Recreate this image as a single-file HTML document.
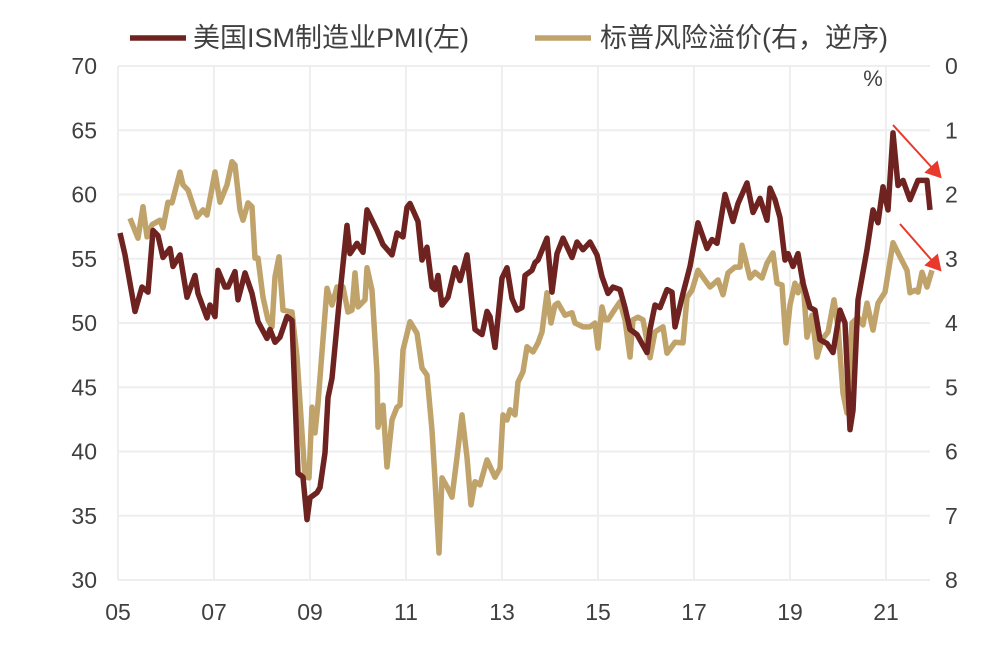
<!DOCTYPE html>
<html><head><meta charset="utf-8"><style>
body{margin:0;background:#fff;}
svg{display:block;font-family:"Liberation Sans","Noto Sans CJK SC",sans-serif;}
</style></head><body>
<svg id="chart" width="1000" height="661"></svg>
<script>
const xTickLabels=["05","07","09","11","13","15","17","19","21"];
const leftTicks=[30,35,40,45,50,55,60,65,70];
const rightTicks=[0,1,2,3,4,5,6,7,8];
// PMI: month index since 2005-01, value
const pmiMonths=[0.5,1.75,4.25,6,7.5,8.75,10,11.25,13,13.75,15.5,17.25,19.25,20,22.25,23,24.25,25,26.75,27.5,29.25,30,31.75,33.5,35,37.25,38,39.25,40.5,42.25,43.5,45,46.25,47.25,48,49.75,50.5,51.75,52.5,53.5,55.5,57.25,58,59.75,61.25,62.25,64.75,66.25,68.5,69.75,71.25,72.25,73,75,76,77.25,78.5,79.25,80,81,82.5,84.25,85.5,87.25,89.25,91,92.25,93,94.25,96,97.25,98.5,99.75,101,101.75,103.5,104.25,105,107.25,108.5,109.75,111.25,113.5,114.75,116.25,118,119.75,121,122.5,123.75,125.5,126.75,128,129.75,132.25,133,134.25,135.5,137.25,138.5,139.25,141.25,143,145,147.25,148.5,149.75,151.75,153.75,155,157.25,158.75,160.5,162.25,163,164.25,165.5,166.75,167.5,168.75,170,171.25,173,174.25,175.5,177.25,178.75,180.5,181.75,183,183.75,185,187.25,188.75,190,191.25,192.5,193.75,195,196.25,198,200,202.25,203];
const pmiValues=[57.0,55.3,50.9,52.8,52.4,57.2,56.8,55.1,55.8,54.4,55.3,52.0,53.7,52.3,50.4,51.4,50.5,54.1,52.8,52.8,54.0,51.8,53.9,52.3,50.1,48.8,49.5,48.5,48.9,50.5,50.2,38.3,38.0,34.7,36.4,36.8,37.2,39.9,44.2,45.7,52.3,57.6,55.4,56.2,55.5,58.8,57.2,56.1,55.3,57.0,56.7,59.0,59.3,57.9,54.9,55.9,52.8,52.6,53.7,51.4,52.0,54.3,53.3,55.3,49.5,49.1,50.9,50.5,48.1,53.5,54.3,51.9,51.0,51.2,53.7,54.1,54.7,54.9,56.6,52.4,55.4,56.6,55.1,56.3,55.7,56.3,55.3,53.6,52.3,52.8,52.6,51.2,49.5,49.1,47.7,49.5,51.4,51.2,52.6,52.4,49.7,52.3,54.4,57.8,55.8,56.5,56.2,60.0,57.9,59.3,60.9,58.6,59.7,58.0,60.5,59.6,58.2,54.9,55.4,54.4,55.4,53.1,51.2,51.0,48.7,48.4,47.7,51.0,50.0,41.7,43.2,51.8,55.7,58.8,57.8,60.6,58.8,64.8,60.7,61.1,59.6,61.1,61.1,58.8];
// Spread (right axis, inverted)
const spreadMonths=[3,5,6.25,7.25,8.5,10.5,11.25,12.5,13.5,15.5,16.25,17.5,19.75,21.25,22.25,24.25,25.5,27.25,28.5,29.25,30.5,31.25,32.5,33.5,34.25,35,36.25,37.5,38.5,39.25,40.25,41.25,43.5,44.75,46,46.75,47.75,48.5,49.25,50,52.25,53.5,54.75,56.25,57.5,58.5,59.25,60,61.75,62.25,63.5,64.75,65,66.25,67.25,68.5,69.75,70.5,71.25,73,74.75,76,77.25,78.5,79.25,80.25,81,82.25,83.5,84.75,86,87.25,88.25,89.25,90.5,92.25,94.25,95.5,96.25,97.25,98,99.25,100,101.25,102.25,103.75,105,106,107.25,108.25,109.25,110,111.75,113.5,114.25,116.25,118,119.25,120,121,121.75,122.5,123.75,125.5,126.75,128,128.75,130,131.25,133,134.25,136.25,137.25,139.25,141.25,142.25,143.5,145,148,150,151.25,152.5,154.25,155.5,156,158,159.25,161,162.25,163.75,164.75,166,167,168,169.25,170,171.25,172.25,173.5,174.75,176,177.5,179,180,181.25,182.25,183.5,185,186.25,187.25,188.75,190,191.75,193.75,195.5,197.25,198,199.25,200,201,202.25,203.5];
const spreadValues=[2.37,2.68,2.19,2.66,2.47,2.40,2.52,2.12,2.13,1.65,1.85,1.93,2.35,2.24,2.32,1.65,2.12,1.85,1.49,1.54,2.24,2.40,2.13,2.19,2.99,2.99,3.60,3.95,4.06,3.28,2.97,3.80,3.83,4.53,5.71,6.40,6.41,5.31,5.71,5.25,3.46,3.72,3.44,3.44,3.83,3.80,3.22,3.75,3.64,3.14,3.49,4.78,5.62,5.28,6.24,5.51,5.31,5.28,4.42,3.98,4.16,4.70,4.81,5.67,6.44,7.58,6.41,6.55,6.71,6.09,5.43,6.09,6.83,6.47,6.52,6.13,6.40,6.26,5.43,5.51,5.35,5.43,4.92,4.76,4.37,4.45,4.31,4.14,3.53,4.00,3.72,3.69,3.88,3.84,4.00,4.06,4.06,4.00,4.39,3.75,3.95,3.95,3.83,3.67,3.95,4.53,3.95,3.91,3.95,4.54,4.14,4.06,4.47,4.30,4.31,3.60,3.49,3.18,3.44,3.33,3.56,3.22,3.13,3.13,2.79,3.30,3.21,3.30,3.07,2.91,3.38,3.41,4.31,3.72,3.38,3.53,3.33,4.22,3.88,4.53,4.26,4.14,3.64,4.06,5.09,5.40,4.00,3.91,4.03,3.69,4.11,3.69,3.52,2.75,2.97,3.18,3.53,3.49,3.52,3.21,3.44,3.18];

const NS="http://www.w3.org/2000/svg";
const svg=document.getElementById('chart');
const X0=118,PX_PER_MONTH=4,Y0=66,Y1=580;
const xS=m=>X0+m*PX_PER_MONTH;
const yL=v=>Y0+(70-v)*(Y1-Y0)/40;
const yR=v=>Y0+v*(Y1-Y0)/8;
function mk(tag,attrs,parent){const e=document.createElementNS(NS,tag);for(const k in attrs)e.setAttribute(k,attrs[k]);(parent||svg).appendChild(e);return e;}

leftTicks.forEach(v=>{
  const l=mk('line',{x1:X0,x2:930,y1:yL(v),y2:yL(v),stroke:'#eeeeee','stroke-width':2});
  
  
  const t=mk('text',{x:97,y:yL(v)+8,'text-anchor':'end','font-size':23,fill:'#404040'});
  t.textContent=v;
  
  
});
rightTicks.forEach(v=>{
  const t=mk('text',{x:945,y:yR(v)+8,'font-size':23,fill:'#404040'});
  t.textContent=v;
  
  
});
xTickLabels.forEach((s,i)=>{
  const x=xS(i*24);
  const l=mk('line',{x1:x,x2:x,y1:Y0,y2:Y1,stroke:'#eeeeee','stroke-width':2});
  
  
  const t=mk('text',{x:x,y:620,'text-anchor':'middle','font-size':23,fill:'#404040'});
  t.textContent=s;
  
  
});
const pct=mk('text',{x:873,y:86,'text-anchor':'middle','font-size':22,fill:'#404040'});
pct.textContent='%';



const sp=mk('polyline',{points:spreadMonths.map((m,i)=>xS(m)+','+yR(spreadValues[i])).join(' '),fill:'none',stroke:'#bfa36a','stroke-width':5.5,'stroke-linejoin':'round'});


const pm=mk('polyline',{points:pmiMonths.map((m,i)=>xS(m)+','+yL(pmiValues[i])).join(' '),fill:'none',stroke:'#6e2320','stroke-width':5.5,'stroke-linejoin':'round'});



// arrows
[[893,125,935,171],[900,224,935,264]].forEach(a=>{
  const l=mk('line',{x1:a[0],y1:a[1],x2:a[2],y2:a[3],stroke:'#e8392a','stroke-width':2});
  
  
  const dx=a[2]-a[0],dy=a[3]-a[1],L=Math.hypot(dx,dy),ux=dx/L,uy=dy/L;
  const tx=a[2]+ux*10,ty=a[3]+uy*10;
  const p=mk('polygon',{points:`${tx},${ty} ${a[2]-ux*6-uy*9},${a[3]-uy*6+ux*9} ${a[2]-ux*6+uy*9},${a[3]-uy*6-ux*9}`,fill:'#e8392a'});
  
  
});

// legend
const lg=mk('g',{});


const l1=mk('line',{x1:130,x2:186,y1:38,y2:38,stroke:'#6e2320','stroke-width':5.5},lg);


const t1=mk('text',{x:193,y:47,'font-size':27,fill:'#404040'},lg);
t1.textContent='美国ISM制造业PMI(左)';


const l2=mk('line',{x1:535,x2:591,y1:38,y2:38,stroke:'#bfa36a','stroke-width':5.5},lg);


const t2=mk('text',{x:600,y:47,'font-size':27,fill:'#404040'},lg);
t2.textContent='标普风险溢价(右，逆序)';


</script>
</body></html>
